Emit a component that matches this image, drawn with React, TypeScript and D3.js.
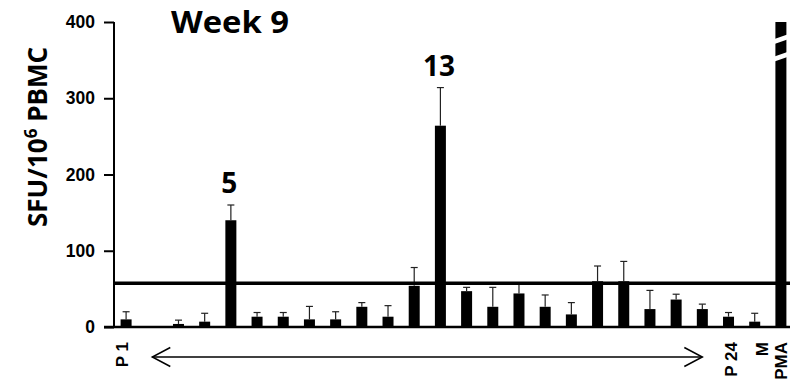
import React, { useEffect, useRef } from "react";
import * as d3 from "d3";

// Peptide pools P1–P24, medium control (M) and PMA positive control
const categories = [
  "P1", "P2", "P3", "P4", "P5", "P6", "P7", "P8", "P9", "P10", "P11", "P12",
  "P13", "P14", "P15", "P16", "P17", "P18", "P19", "P20", "P21", "P22", "P23",
  "P24", "M", "PMA",
];
const axisLabels = [
  "P 1", "", "", "", "", "", "", "", "", "", "", "", "", "", "", "", "", "",
  "", "", "", "", "", "P 24", "M", "PMA",
];
// Mean spot-forming units per 10^6 PBMC
const means = [
  10, 0, 4, 7, 140, 13.5, 13.5, 10, 10, 26.5, 13.5, 54, 264, 47, 26.5, 44,
  26.5, 16.5, 60, 60, 23.5, 36, 23.5, 13.5, 7, 400,
];
// Upper error (SD)
const errors = [
  10, 0, 5, 11, 20, 5.5, 5.5, 17, 10, 5.5, 14.5, 24, 50, 5, 25.5, 13, 15.5,
  15.5, 20, 26, 24.5, 7, 6.5, 5.5, 11, 0,
];
const yTicks = [0, 100, 200, 300, 400];
const threshold = 57.5;
const positives = [
  { category: "P5", label: "5" },
  { category: "P13", label: "13" },
];
const brokenBar = "PMA";
const arrowFrom = "P2";
const arrowTo = "P23";

const W = 790;
const H = 387;

// horizontal nudge of each rotated category label from its bar centre
const labelNudge: Record<string, number> = { "P 1": 2, "P 24": 8, M: 13, PMA: 6 };

export default function App() {
  const ref = useRef<SVGSVGElement>(null);

  useEffect(() => {
    const svg = d3.select(ref.current);
    svg.selectAll("*").remove();

    const x = d3
      .scaleBand<string>()
      .domain(categories)
      .range([113, 794])
      .paddingInner(0.58)
      .paddingOuter(0.29);
    const y = d3.scaleLinear().domain([0, 400]).range([327, 22]);
    const bw = x.bandwidth();
    const cx = (c: string) => (x(c) as number) + bw / 2;

    const data = categories.map((c, i) => ({
      c,
      v: means[i],
      e: errors[i],
    }));

    // bars
    svg
      .append("g")
      .selectAll("rect")
      .data(data.filter((d) => d.v > 0))
      .join("rect")
      .attr("x", (d) => x(d.c) as number)
      .attr("width", bw)
      .attr("y", (d) => y(d.v))
      .attr("height", (d) => y(0) - y(d.v))
      .attr("fill", "#000");

    // axis break on the PMA bar
    const bx0 = (x(brokenBar) as number) - 1;
    const bx1 = bx0 + bw + 2;
    const yb = y(400);
    [19.5, 37].forEach((off) => {
      const L = yb + off;
      const R = L - 4.5;
      svg
        .append("polygon")
        .attr(
          "points",
          [
            [bx0, L - 2.4],
            [bx1, R - 2.4],
            [bx1, R + 2.4],
            [bx0, L + 2.4],
          ]
            .map((p) => p.join(","))
            .join(" ")
        )
        .attr("fill", "#fff");
    });

    // error bars (upper only)
    const eg = svg.append("g").attr("stroke", "#222").attr("stroke-width", 1.2);
    data
      .filter((d) => d.e > 0)
      .forEach((d) => {
        const xc = cx(d.c);
        eg.append("line")
          .attr("x1", xc)
          .attr("x2", xc)
          .attr("y1", y(d.v))
          .attr("y2", y(d.v + d.e));
        eg.append("line")
          .attr("x1", xc - 3.5)
          .attr("x2", xc + 3.5)
          .attr("y1", y(d.v + d.e))
          .attr("y2", y(d.v + d.e));
      });

    // cut-off line
    svg
      .append("line")
      .attr("x1", 114)
      .attr("x2", W)
      .attr("y1", y(threshold))
      .attr("y2", y(threshold))
      .attr("stroke", "#000")
      .attr("stroke-width", 3.5);

    // baseline
    svg
      .append("line")
      .attr("x1", 104)
      .attr("x2", W)
      .attr("y1", y(0))
      .attr("y2", y(0))
      .attr("stroke", "#000")
      .attr("stroke-width", 2.5);

    // y axis
    const ya = svg
      .append("g")
      .attr("transform", "translate(114,0)")
      .call(
        d3
          .axisLeft(y)
          .tickValues(yTicks)
          .tickSize(10)
          .tickPadding(9)
          .tickFormat(d3.format("d"))
      );
    ya.select(".domain").attr("stroke-width", 2).attr("d", `M0,${y(400)}V${y(0)}`);
    ya.selectAll(".tick line").attr("stroke-width", 2);
    ya.selectAll(".tick text")
      .attr("font-family", "'Liberation Sans', Arial, sans-serif")
      .attr("font-weight", "bold")
      .attr("font-size", 17.5)
      .attr("fill", "#000");

    // category labels
    svg
      .append("g")
      .selectAll("text")
      .data(categories.map((c, i) => ({ c, t: axisLabels[i] })).filter((d) => d.t))
      .join("text")
      .attr(
        "transform",
        (d) => `translate(${cx(d.c) + (labelNudge[d.t] ?? 6)},342) rotate(-90)`
      )
      .attr("text-anchor", "end")
      .attr("font-family", "'Liberation Sans', Arial, sans-serif")
      .attr("font-weight", "bold")
      .attr("font-size", 17)
      .text((d) => d.t);

    // double-headed arrow spanning the peptide pools
    const ay = 357;
    const ax0 = cx(arrowFrom);
    const ax1 = cx(arrowTo);
    const ag = svg
      .append("g")
      .attr("stroke", "#000")
      .attr("stroke-width", 1.5)
      .attr("fill", "none");
    ag.append("line").attr("x1", ax0).attr("x2", ax1).attr("y1", ay).attr("y2", ay);
    ag.append("path").attr("d", `M${ax0 + 18},${ay - 9.5}L${ax0},${ay}L${ax0 + 18},${ay + 9.5}`);
    ag.append("path").attr("d", `M${ax1 - 18},${ay - 9.5}L${ax1},${ay}L${ax1 - 18},${ay + 9.5}`);

    // positive pool annotations
    svg
      .append("g")
      .selectAll("text")
      .data(positives)
      .join("text")
      .attr("x", (d) => cx(d.category) - 1.5)
      .attr("y", (d) => {
        const i = categories.indexOf(d.category);
        return y(means[i] + errors[i]) - 12;
      })
      .attr("text-anchor", "middle")
      .attr("font-family", "'Open Sans', sans-serif")
      .attr("font-weight", "bold")
      .attr("font-size", 28)
      .text((d) => d.label);

    // title
    svg
      .append("text")
      .attr("x", 171)
      .attr("y", 33)
      .attr("font-family", "'Open Sans', sans-serif")
      .attr("font-weight", "bold")
      .attr("font-size", 30)
      .attr("textLength", 118)
      .attr("lengthAdjust", "spacingAndGlyphs")
      .text("Week 9");

    // y axis title
    const yt = svg
      .append("text")
      .attr("transform", "translate(47,137) rotate(-90)")
      .attr("text-anchor", "middle")
      .attr("font-family", "'Open Sans', sans-serif")
      .attr("font-weight", "bold")
      .attr("font-size", 26);
    yt.append("tspan").text("SFU/10");
    yt.append("tspan").attr("font-size", 17).attr("dy", -10).text("6");
    yt.append("tspan").attr("dy", 10).text(" PBMC");
  }, []);

  return (
    <svg
      ref={ref}
      width={W}
      height={H}
      style={{ position: "absolute", left: 0, top: 0, background: "#fff" }}
    />
  );
}
